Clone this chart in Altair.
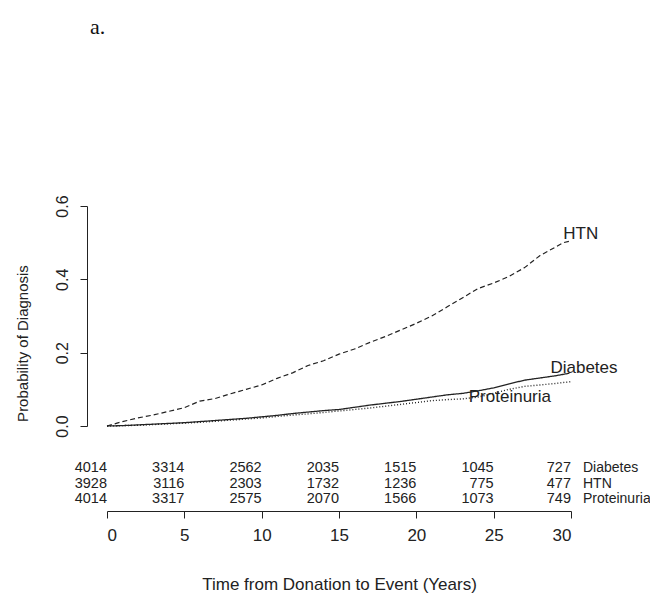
import altair as alt
import pandas as pd

# ---- curve data ----
htn_t = [0, 1, 2, 3, 4, 5, 6, 7, 8, 9, 10, 11, 12, 13, 14, 15, 16, 17, 18, 19, 20,
         21, 22, 23, 24, 25, 26, 27, 28, 29, 29.5, 30]
htn_p = [0, 0.012, 0.022, 0.030, 0.040, 0.050, 0.068, 0.075, 0.088, 0.100, 0.112,
         0.130, 0.145, 0.165, 0.178, 0.196, 0.210, 0.228, 0.244, 0.262, 0.280,
         0.300, 0.325, 0.350, 0.375, 0.390, 0.408, 0.432, 0.465, 0.488, 0.500, 0.505]

dia_t = [0, 1, 2, 3, 4, 5, 6, 7, 8, 9, 10, 11, 12, 13, 14, 15, 16, 17, 18, 19, 20,
         21, 22, 23, 24, 25, 26, 27, 28, 29, 29.9]
dia_p = [0, 0.001, 0.003, 0.005, 0.007, 0.009, 0.012, 0.015, 0.018, 0.021, 0.025,
         0.029, 0.034, 0.038, 0.042, 0.045, 0.051, 0.057, 0.062, 0.067, 0.073,
         0.079, 0.085, 0.089, 0.096, 0.104, 0.115, 0.125, 0.131, 0.137, 0.144]

pro_t = [0, 1, 2, 3, 4, 5, 6, 7, 8, 9, 10, 11, 12, 13, 14, 15, 16, 17, 18, 19, 20,
         21, 22, 23, 24, 25, 26, 27, 28, 29, 30]
pro_p = [0, 0.001, 0.002, 0.004, 0.006, 0.008, 0.010, 0.013, 0.016, 0.019, 0.022,
         0.026, 0.030, 0.033, 0.037, 0.041, 0.045, 0.049, 0.054, 0.059, 0.064,
         0.069, 0.072, 0.074, 0.079, 0.089, 0.100, 0.108, 0.112, 0.116, 0.121]

# ---- curve labels (data coordinates) ----
label_names = ["HTN", "Diabetes", "Proteinuria"]
label_x = [29.5, 28.67, 23.39]
label_y = [0.51, 0.144, 0.066]

# ---- numbers at risk ----
risk_times = [0, 5, 10, 15, 20, 25, 30]
rows = ["Diabetes", "HTN", "Proteinuria"]
risk_diabetes = [4014, 3314, 2562, 2035, 1515, 1045, 727]
risk_htn = [3928, 3116, 2303, 1732, 1236, 775, 477]
risk_proteinuria = [4014, 3317, 2575, 2070, 1566, 1073, 749]

series_order = ["HTN", "Diabetes", "Proteinuria"]

curves = pd.concat([
    pd.DataFrame({"time": htn_t, "prob": htn_p, "series": "HTN"}),
    pd.DataFrame({"time": dia_t, "prob": dia_p, "series": "Diabetes"}),
    pd.DataFrame({"time": pro_t, "prob": pro_p, "series": "Proteinuria"}),
], ignore_index=True)

labels = pd.DataFrame({"time": label_x, "prob": label_y, "series": label_names})

risk = pd.concat([
    pd.DataFrame({"time": risk_times, "row": r, "n": [str(v) for v in vals]})
    for r, vals in zip(rows, [risk_diabetes, risk_htn, risk_proteinuria])
], ignore_index=True)

row_labels = pd.DataFrame({"time": [max(risk_times)] * len(rows), "row": rows})

INK = "#222222"
SANS = "Liberation Sans"

x_scale = alt.Scale(domain=[0, 30], nice=False, zero=False)
x_axis = alt.Axis(
    values=risk_times, grid=False, tickSize=7, tickColor=INK, domainColor=INK,
    labelFont=SANS, labelFontSize=17, labelColor=INK, labelPadding=9,
    title="Time from Donation to Event (Years)", titleFont=SANS, titleFontSize=17,
    titleFontWeight="normal", titleColor=INK, titleY=78, titleBaseline="alphabetic",
)
x_enc = alt.X("time:Q", scale=x_scale, axis=x_axis)

y_scale = alt.Scale(domain=[0, 0.6], range=[220, 0], nice=False, zero=False)
y_axis = alt.Axis(
    values=[0, 0.2, 0.4, 0.6], format=".1f", grid=False, offset=20,
    tickSize=7, tickColor=INK, domainColor=INK,
    labelFont=SANS, labelFontSize=16, labelColor=INK, labelAngle=270,
    labelAlign="center", labelBaseline="bottom", labelPadding=10,
    title="Probability of Diagnosis", titleFont=SANS, titleFontSize=15,
    titleFontWeight="normal", titleColor=INK, titleAngle=270,
    titleAlign="center", titleBaseline="middle", titleX=-65, titleY=137,
)

lines = alt.Chart(curves).mark_line(color=INK).encode(
    x=x_enc,
    y=alt.Y("prob:Q", scale=y_scale, axis=y_axis),
    detail="series:N",
    strokeDash=alt.StrokeDash("series:N", scale=alt.Scale(domain=series_order,
                              range=[[5, 3], [1, 0], [1, 2]]), legend=None),
    strokeWidth=alt.StrokeWidth("series:N", scale=alt.Scale(domain=series_order,
                                range=[1.2, 1.4, 1.1]), legend=None),
    order="time:Q",
)

curve_labels = alt.Chart(labels).mark_text(
    align="left", baseline="alphabetic", font=SANS, fontSize=17, color=INK
).encode(
    x=x_enc,
    y=alt.Y("prob:Q", scale=y_scale, axis=None),
    text="series:N",
)

row_scale = alt.Scale(type="point", domain=rows, range=[262, 293], padding=0)

risk_text = alt.Chart(risk).mark_text(
    align="right", baseline="middle", font=SANS, fontSize=14.5, color=INK
).encode(
    x=x_enc,
    y=alt.Y("row:N", scale=row_scale, axis=None),
    text="n:N",
)

row_text = alt.Chart(row_labels).mark_text(
    align="left", baseline="middle", font=SANS, fontSize=14, color=INK, dx=12
).encode(
    x=x_enc,
    y=alt.Y("row:N", scale=row_scale, axis=None),
    text="row:N",
)

chart = alt.layer(lines, curve_labels, risk_text, row_text).resolve_scale(
    y="independent"
).properties(
    width=464,
    height=305,
    autosize=alt.AutoSizeParams(type="none"),
    padding={"left": 99, "top": 198, "right": 79, "bottom": 83},
    title=alt.TitleParams(
        "a.", anchor="start", frame="group", font="Liberation Serif", fontSize=22,
        fontWeight="normal", color="#111111", offset=156, dx=-17,
    ),
).configure_view(stroke=None)

chart.save("out.html", embed_options={"renderer": "svg", "actions": False})
